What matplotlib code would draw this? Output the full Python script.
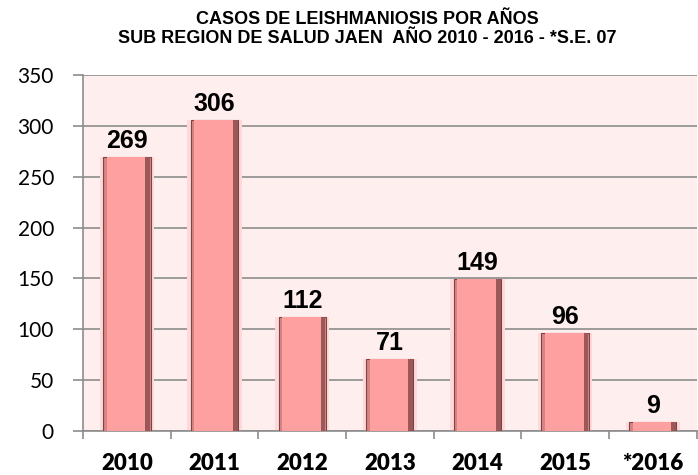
import numpy as np
import matplotlib
matplotlib.use('Agg')
import matplotlib.pyplot as plt

years = ['2010', '2011', '2012', '2013', '2014', '2015', '*2016']
cases = [269, 306, 112, 71, 149, 96, 9]
title = 'CASOS DE LEISHMANIOSIS POR AÑOS\nSUB REGION DE SALUD JAEN  AÑO 2010 - 2016 - *S.E. 07'


def main():
    fig = plt.figure(figsize=(6.98, 4.75), dpi=100)
    ax = fig.add_axes([0.119, 0.093, 0.879, 0.749])
    ax.set_facecolor('#FFEEEE')

    x = np.arange(len(years))
    # soft glow + main bar + shaded sides to fake the bevel
    ax.bar(x, cases, width=0.62, color='#FFD9D9', zorder=2)
    ax.bar(x, cases, width=0.54, color='#D88484', edgecolor='#7A4545',
           linewidth=0.8, zorder=3)
    ax.bar(x + 0.235, cases, width=0.06, color='#9C5858', zorder=4)
    ax.bar(x - 0.01, cases, width=0.44, color='#FFA0A0', zorder=4)

    for xi, v in zip(x, cases):
        ax.text(xi, v + 4, str(v), ha='center', va='bottom',
                fontsize=18, fontweight='bold', family='Liberation Sans', zorder=5)

    ax.set_xlim(-0.5, len(years) - 0.5)
    ax.set_ylim(0, 350)
    ax.set_yticks(range(0, 351, 50))
    ax.yaxis.grid(True, color='#8C8C8C', linewidth=1.2, zorder=1)
    ax.set_axisbelow(True)

    ax.set_xticks(x)
    ax.set_xticklabels(years, fontsize=16, fontweight='heavy', family='Lato')
    ax.set_xticks(np.arange(-0.5, len(years)), minor=True)
    ax.tick_params(axis='x', which='major', length=0, pad=16)
    ax.tick_params(axis='x', which='minor', length=6, color='#8C8C8C', width=1.2)
    ax.tick_params(axis='y', length=7, color='#8C8C8C', width=1.2, labelsize=15, pad=14)
    for lab in ax.get_yticklabels():
        lab.set_family('Lato')

    for s in ['top', 'right']:
        ax.spines[s].set_visible(False)
    ax.spines['left'].set_color('#8C8C8C')
    ax.spines['bottom'].set_color('#8C8C8C')
    ax.spines['left'].set_linewidth(1.2)
    ax.spines['bottom'].set_linewidth(1.2)

    fig.text(0.526, 0.939, title, ha='center', va='center', fontsize=13,
             fontweight='bold', family='Liberation Sans', linespacing=1.1)

    fig.savefig('out.png', dpi=100)


if __name__ == '__main__':
    main()
